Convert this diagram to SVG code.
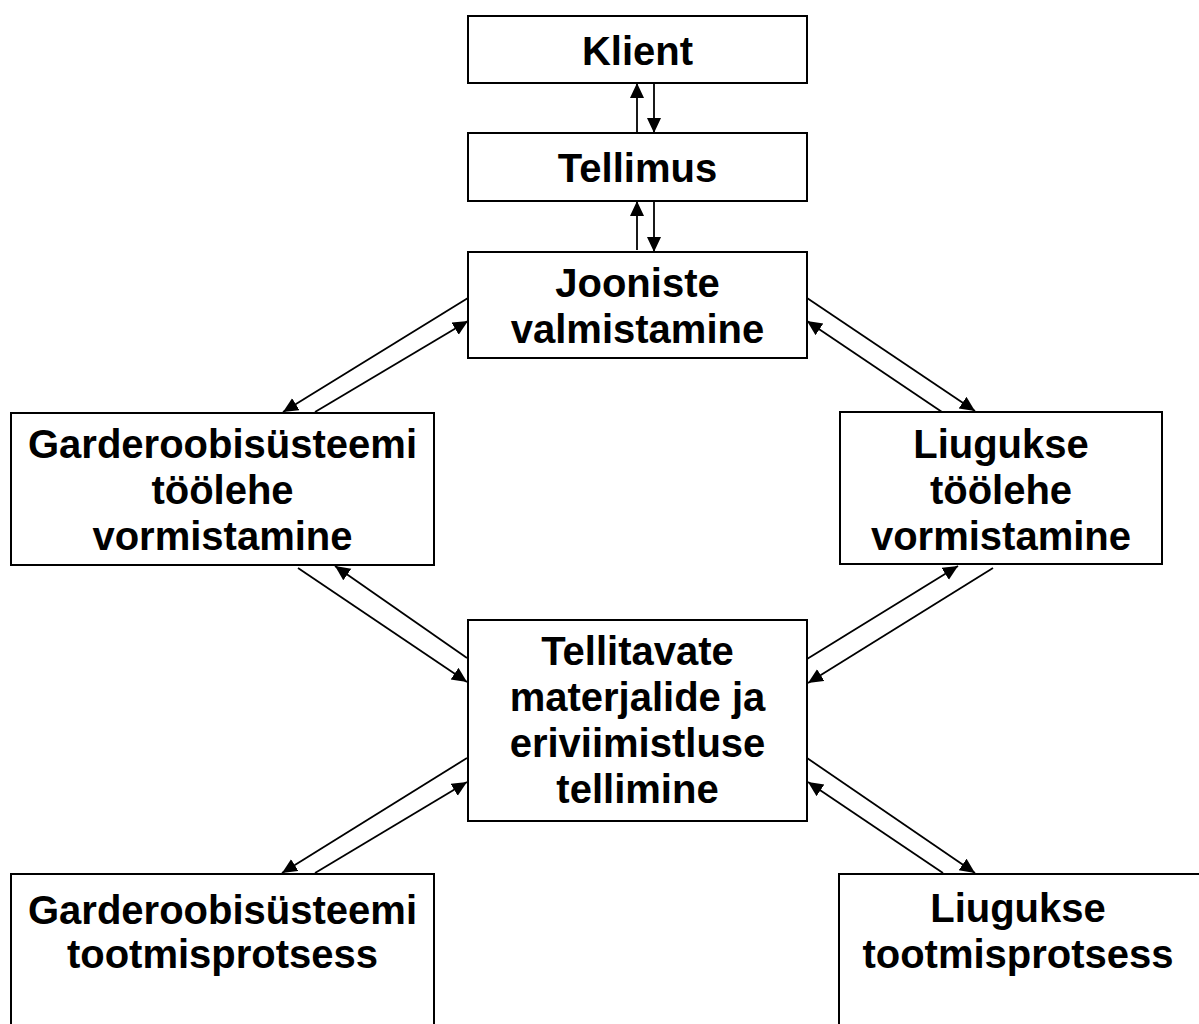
<svg xmlns="http://www.w3.org/2000/svg" width="1199" height="1024" viewBox="0 0 1199 1024">
  <style>
    .box { fill: #ffffff; stroke: #000000; stroke-width: 2; }
    .lbl { font-family: "Liberation Sans", Arial, sans-serif; font-weight: bold; font-size: 40px; fill: #000000; text-anchor: middle; }
    .edge { stroke: #000000; stroke-width: 1.8; fill: none; marker-end: url(#head); }
  </style>
  <defs>
    <marker id="head" markerUnits="userSpaceOnUse" markerWidth="16" markerHeight="16" refX="15" refY="7" orient="auto">
      <path d="M0,0 L15,7 L0,14 Z" fill="#000000"/>
    </marker>
  </defs>
  <rect width="1199" height="1024" fill="#ffffff"/>

  <g id="klient">
    <rect class="box" x="468" y="16" width="339" height="67"/>
    <text class="lbl" x="637.5" y="65">Klient</text>
  </g>

  <g id="tellimus">
    <rect class="box" x="468" y="133" width="339" height="68"/>
    <text class="lbl" x="637.5" y="182">Tellimus</text>
  </g>

  <g id="jooniste">
    <rect class="box" x="468" y="252" width="339" height="106"/>
    <text class="lbl" x="637.5" y="297">Jooniste</text>
    <text class="lbl" x="637.5" y="343">valmistamine</text>
  </g>

  <g id="garderoob-toolehe">
    <rect class="box" x="11" y="413" width="423" height="152"/>
    <text class="lbl" x="222.5" y="458">Garderoobisüsteemi</text>
    <text class="lbl" x="222.5" y="504">töölehe</text>
    <text class="lbl" x="222.5" y="550">vormistamine</text>
  </g>

  <g id="liugukse-toolehe">
    <rect class="box" x="840" y="412" width="322" height="152"/>
    <text class="lbl" x="1001" y="458">Liugukse</text>
    <text class="lbl" x="1001" y="504">töölehe</text>
    <text class="lbl" x="1001" y="550">vormistamine</text>
  </g>

  <g id="tellitavate">
    <rect class="box" x="468" y="620" width="339" height="201"/>
    <text class="lbl" x="637.5" y="665">Tellitavate</text>
    <text class="lbl" x="637.5" y="711">materjalide ja</text>
    <text class="lbl" x="637.5" y="757">eriviimistluse</text>
    <text class="lbl" x="637.5" y="803">tellimine</text>
  </g>

  <g id="garderoob-tootmine">
    <rect class="box" x="11" y="874" width="423" height="170"/>
    <text class="lbl" x="222.5" y="924">Garderoobisüsteemi</text>
    <text class="lbl" x="222.5" y="968">tootmisprotsess</text>
  </g>

  <g id="liugukse-tootmine">
    <rect class="box" x="839" y="874" width="380" height="170"/>
    <text class="lbl" x="1018" y="922">Liugukse</text>
    <text class="lbl" x="1018" y="968">tootmisprotsess</text>
  </g>

  <g id="connectors">
    <!-- Klient / Tellimus -->
    <line class="edge" x1="637" y1="133" x2="637" y2="83"/>
    <line class="edge" x1="654" y1="83" x2="654" y2="133"/>
    <!-- Tellimus / Jooniste -->
    <line class="edge" x1="637" y1="250" x2="637" y2="201"/>
    <line class="edge" x1="654" y1="201" x2="654" y2="252"/>
    <!-- Jooniste / Garderoobi töölehe -->
    <line class="edge" x1="468" y1="298" x2="283" y2="412"/>
    <line class="edge" x1="315" y1="412" x2="468" y2="321"/>
    <!-- Jooniste / Liugukse töölehe -->
    <line class="edge" x1="807" y1="298" x2="975" y2="411"/>
    <line class="edge" x1="942" y1="412" x2="807" y2="321"/>
    <!-- Garderoobi töölehe / Tellitavate -->
    <line class="edge" x1="298" y1="568" x2="467" y2="682"/>
    <line class="edge" x1="467" y1="658" x2="335" y2="566"/>
    <!-- Liugukse töölehe / Tellitavate -->
    <line class="edge" x1="807" y1="659" x2="958" y2="566"/>
    <line class="edge" x1="993" y1="568" x2="808" y2="683"/>
    <!-- Tellitavate / Garderoobi tootmine -->
    <line class="edge" x1="467" y1="758" x2="282" y2="873"/>
    <line class="edge" x1="315" y1="873" x2="467" y2="782"/>
    <!-- Tellitavate / Liugukse tootmine -->
    <line class="edge" x1="807" y1="758" x2="975" y2="873"/>
    <line class="edge" x1="943" y1="873" x2="808" y2="782"/>
  </g>
</svg>
